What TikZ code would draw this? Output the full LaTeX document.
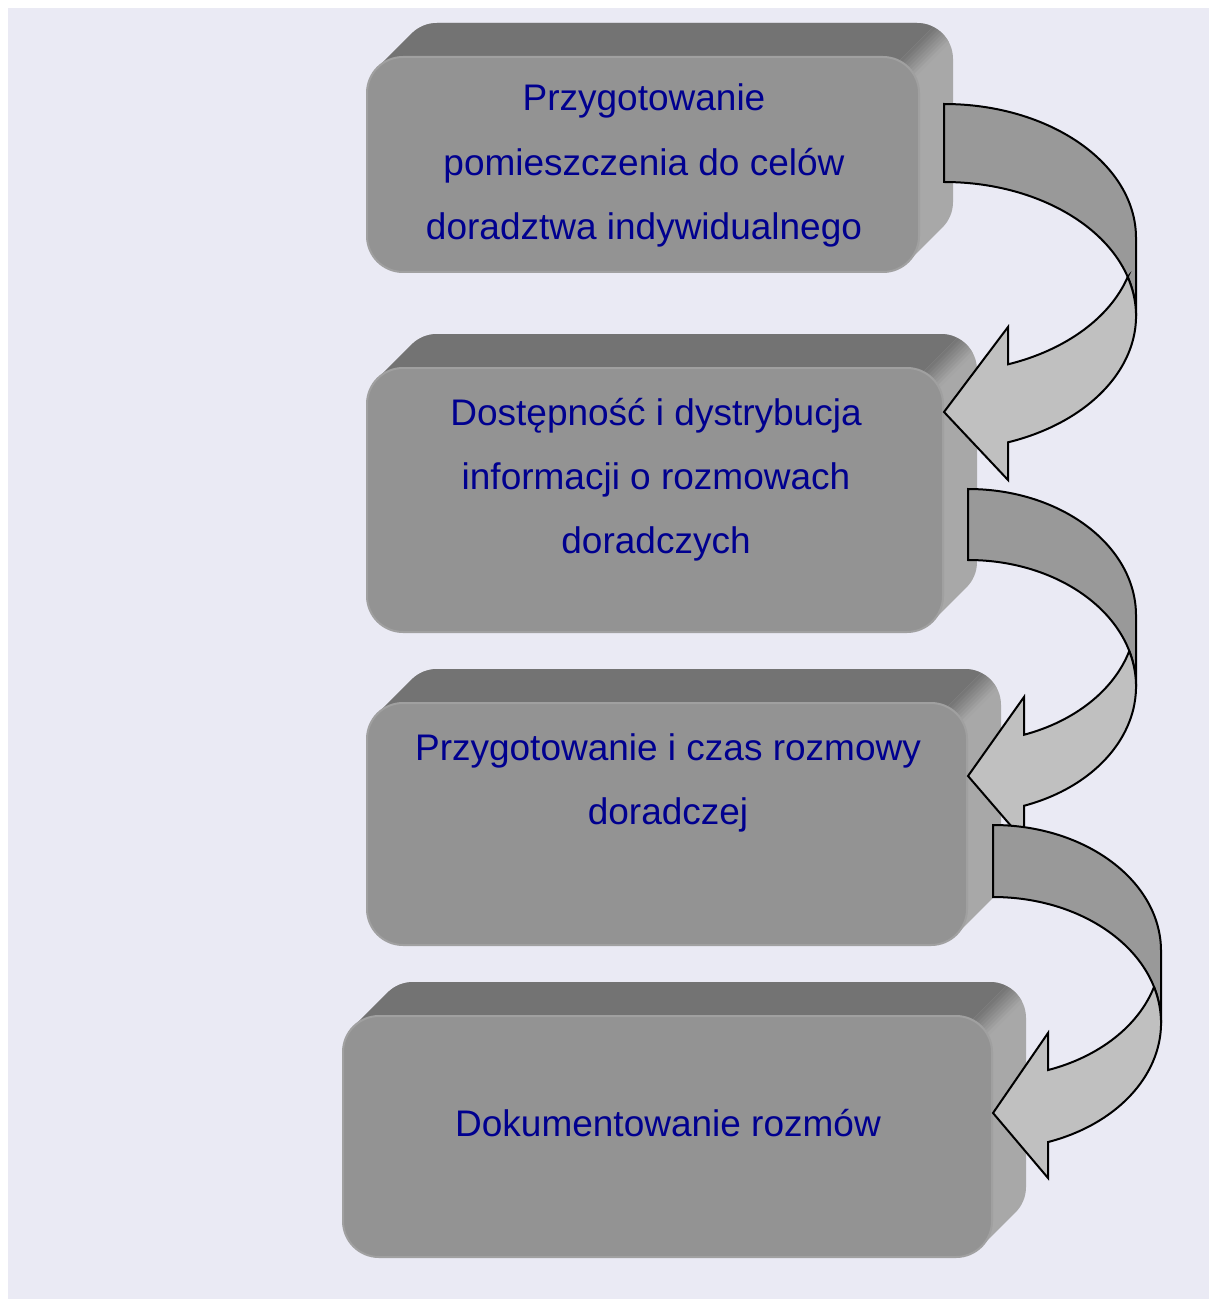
\documentclass[tikz,border=0pt]{standalone}
\usepackage{fontspec}
\setmainfont{Liberation Sans}

\definecolor{pagebg}{HTML}{EAEAF4}
\definecolor{facefront}{HTML}{939393}
\definecolor{facetop}{HTML}{737373}
\definecolor{faceside}{HTML}{A8A8A8}
\definecolor{facerim}{HTML}{A0A0A0}
\definecolor{arrowback}{HTML}{999999}
\definecolor{arrowfront}{HTML}{C0C0C0}
\definecolor{labelblue}{HTML}{00008F}

% corner radius, extrusion depth and half width of the top/side blend (px)
\newcommand\bxr{36}
\newcommand\bxd{34}
\newcommand\bxg{16}

% outline of an extruded rounded rectangle: front face (#1,#2)-(#3,#4),
% back face shifted up-right by \bxd
\newcommand\hullpath[4]{%
  ({#1+\bxr-\bxr*cos(45)},{#2+\bxr-\bxr*sin(45)}) -- ++(\bxd,-\bxd)
  arc[start angle=225, end angle=270, radius=\bxr]
  -- ({#3+\bxd-\bxr},{#2-\bxd})
  arc[start angle=270, end angle=360, radius=\bxr]
  -- ({#3+\bxd},{#4-\bxd-\bxr})
  arc[start angle=0, end angle=45, radius=\bxr]
  -- ++(-\bxd,\bxd)
  arc[start angle=45, end angle=90, radius=\bxr]
  -- ({#1+\bxr},{#4})
  arc[start angle=90, end angle=180, radius=\bxr]
  -- ({#1},{#2+\bxr})
  arc[start angle=180, end angle=225, radius=\bxr]
  -- cycle}

% bevelled box: dark top face, light right face, flat front face
\newcommand\bevelbox[4]{%
  \pgfmathsetmacro\bxS{#3+#2}
  \fill[faceside] \hullpath{#1}{#2}{#3}{#4};
  \begin{scope}
    \clip \hullpath{#1}{#2}{#3}{#4};
    \fill[facetop] ({#1-100},{#2-100}) -- ({\bxS-\bxg-#2+100},{#2-100})
      -- ({\bxS-\bxg-#4-100},{#4+100}) -- ({#1-100},{#4+100}) -- cycle;
    \foreach \k in {0,...,7}{
      \pgfmathsetmacro\sa{\bxS-\bxg+2*\bxg*\k/8}
      \pgfmathsetmacro\sb{\sa+2*\bxg/8+0.6}
      \pgfmathtruncatemacro\pc{100-100*(\k+0.5)/8}
      \fill[facetop!\pc!faceside] ({\sa-#2+100},{#2-100}) -- ({\sb-#2+100},{#2-100})
        -- ({\sb-#4-100},{#4+100}) -- ({\sa-#4-100},{#4+100}) -- cycle;
    }
  \end{scope}
  \fill[facefront, draw=facerim, line width=1pt, rounded corners=18pt]
    ({#1},{#2}) rectangle ({#3},{#4});
}

% curved arrow bending down and back to the left:
% #1 left x, #2 top y, #3 width, #4 band thickness, #5 vertical radius,
% #6 head length, #7 upper barb y, #8 tip y, #9 lower barb y
\newcommand\bentarrow[9]{%
  \pgfmathsetmacro\ca{#2+#5}
  \pgfmathsetmacro\cb{#2+#4+#5}
  \pgfmathsetmacro\al{asin((#4/2)/#5)}
  \pgfmathsetmacro\sw{acos(#6/#3)}
  \filldraw[arrowline, fill=arrowback] ({#1},{#2})
    arc[start angle=-90, end angle=0, x radius=#3, y radius=#5]
    -- ({#1+#3},{\cb})
    arc[start angle=0, end angle=-90, x radius=#3, y radius=#5] -- cycle;
  \filldraw[arrowline, fill=arrowfront] ({#1+#3*cos(\al)},{\cb-#5*sin(\al)})
    arc[start angle=-\al, end angle=\sw, x radius=#3, y radius=#5]
    -- ({#1+#6},{#9}) -- ({#1},{#8}) -- ({#1+#6},{#7})
    -- ({#1+#6},{\ca+#5*sin(\sw)})
    arc[start angle=\sw, end angle=\al, x radius=#3, y radius=#5] -- cycle;
}

\begin{document}
\begin{tikzpicture}[x=0.5pt, y=-0.5pt,
  arrowline/.style={draw=black, line width=1pt, line join=miter},
  boxtext/.style={text=labelblue, font=\fontsize{18.5}{32}\selectfont,
    inner sep=0pt, anchor=base}]

  \useasboundingbox (0,0) rectangle (1209,1299);
  \fill[white] (0,0) rectangle (1209,1299);
  \fill[pagebg] (8,8) rectangle (1209,1299);

  % the four steps
  \bevelbox{367}{57}{919}{272}
  \bevelbox{367}{368}{943}{632}
  \bevelbox{367}{703}{967}{945}
  \bevelbox{343}{1016}{992}{1257}

  \node[boxtext] (s1a) at (644,111) {Przygotowanie};
  \node[boxtext] (s1b) at (644,175.5) {pomieszczenia do celów};
  \node[boxtext] (s1c) at (644,240) {doradztwa indywidualnego};

  \node[boxtext] (s2a) at (656,425) {Dostępność i dystrybucja};
  \node[boxtext] (s2b) at (656,489) {informacji o rozmowach};
  \node[boxtext] (s2c) at (656,553) {doradczych};

  \node[boxtext] (s3a) at (668,760) {Przygotowanie i czas rozmowy};
  \node[boxtext] (s3b) at (668,824) {doradczej};

  \node[boxtext] (s4a) at (668,1136) {Dokumentowanie rozmów};

  % curved arrows between the steps
  \bentarrow{944}{104}{192}{78}{134}{64}{327}{412}{480}
  \bentarrow{968}{489}{168}{71}{126.5}{56}{697}{776}{841}
  \bentarrow{993}{825}{168}{72}{126}{55}{1033}{1113}{1178}
\end{tikzpicture}
\end{document}
